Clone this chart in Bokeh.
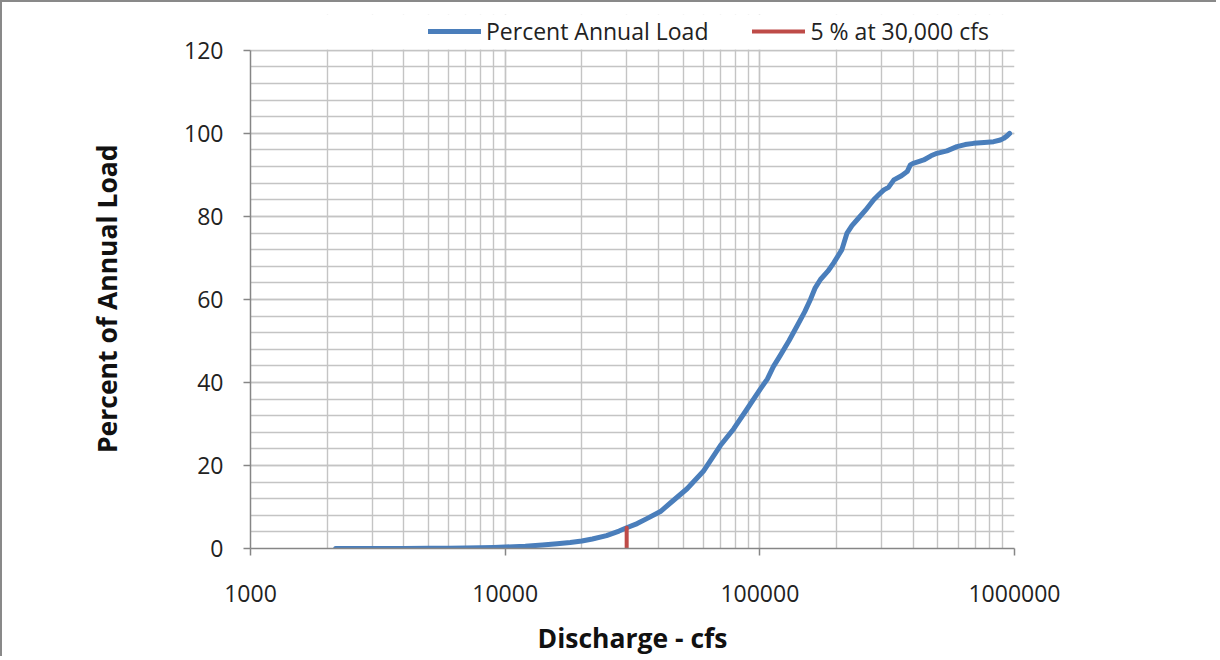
from bokeh.plotting import figure
from bokeh.models import FixedTicker, Range1d, Legend, LegendItem, BoxAnnotation
from bokeh.embed import file_html
from bokeh.resources import INLINE

# ---- data ----
discharge_cfs = [2160, 3000, 4000, 5000, 6000, 7000, 8000, 9000, 10000, 12000,
                 14000, 16000, 18000, 20000, 22000, 25000, 28000, 30000, 33000, 36000,
                 40700, 45000, 51800, 60000, 70000, 78900, 89100, 100400, 107000, 113000,
                 120000, 130000, 140000, 150000, 158000, 165000, 173000, 185000, 195000, 210000,
                 220000, 230000, 241000, 260000, 280000, 295000, 307000, 320000, 336000, 360000,
                 379000, 390000, 400000, 420000, 440000, 470000, 496000, 543000, 594000, 640000,
                 691000, 760000, 828000, 880000, 907000, 935000, 957000]
percent_load = [0.0, 0.0, 0.02, 0.04, 0.07, 0.12, 0.18, 0.25, 0.35, 0.55,
                0.85, 1.15, 1.45, 1.8, 2.3, 3.1, 4.2, 5.0, 6.0, 7.2,
                8.9, 11.2, 14.4, 18.6, 24.8, 28.8, 33.6, 38.4, 40.8, 43.8,
                46.4, 50.0, 53.6, 57.0, 60.0, 62.8, 64.8, 66.8, 68.8, 72.0,
                76.0, 77.8, 79.2, 81.5, 84.0, 85.4, 86.4, 87.0, 88.8, 89.8,
                90.8, 92.4, 92.8, 93.2, 93.6, 94.6, 95.2, 95.8, 96.8, 97.3,
                97.6, 97.8, 98.0, 98.4, 98.8, 99.4, 100.0]
marker_x = [30000, 30000]
marker_y = [0, 5]

x_major = [1000, 10000, 100000, 1000000]
x_labels = ["1000", "10000", "100000", "1000000"]
y_major = [0, 20, 40, 60, 80, 100, 120]
y_minor = list(range(0, 121, 4))
x_minor = [m * d for d in [1000, 10000, 100000] for m in range(1, 10)] + [1000000]
y_top = 120
legend_room = 8.64  # extra space above the 120 line, holding the legend

FONT = "Open Sans"
GRID = "#c4c4c4"
AXIS = "#868686"

p = figure(width=1216, height=656, x_axis_type="log",
           x_range=Range1d(1000, 1000000), y_range=Range1d(0, y_top + legend_room),
           output_backend="svg", toolbar_location=None,
           min_border_left=248, min_border_right=204,
           min_border_top=12, min_border_bottom=108,
           styles={"border-left": "2px solid #898989", "border-top": "2px solid #898989"})
p.outline_line_color = None

r1 = p.line(discharge_cfs, percent_load, line_color="#4a7ebb", line_width=5,
            line_cap="round", line_join="round")
r2 = p.line(marker_x, marker_y, line_color="#be4b48", line_width=4, line_cap="round")

# blank out the region above the 120 line (legend area)
p.add_layout(BoxAnnotation(bottom=y_top + 0.2, fill_color="white", fill_alpha=1,
                           line_color=None, level="glyph"))

xa = p.xaxis[0]
xa.ticker = FixedTicker(ticks=x_major, minor_ticks=x_minor)
xa.major_label_overrides = {v: s for v, s in zip(x_major, x_labels)}
ya = p.yaxis[0]
ya.ticker = FixedTicker(ticks=y_major, minor_ticks=y_minor)
ya.bounds = (0, y_top)

for ax in (xa, ya):
    ax.axis_line_color = AXIS
    ax.axis_line_width = 1.5
    ax.major_tick_line_color = AXIS
    ax.major_tick_line_width = 1.5
    ax.major_tick_in = 0
    ax.major_tick_out = 7
    ax.minor_tick_in = 0
    ax.minor_tick_out = 0
    ax.major_label_text_font = FONT
    ax.major_label_text_font_size = "23px"
    ax.major_label_text_color = "#222222"
    ax.axis_label_text_font = FONT
    ax.axis_label_text_font_size = "26.5px"
    ax.axis_label_text_font_style = "bold"
    ax.axis_label_text_color = "#111111"

xa.axis_label = "Discharge - cfs"
ya.axis_label = "Percent of Annual Load" + "\u00a0" * 5
xa.major_label_standoff = 29
xa.axis_label_standoff = 15
ya.major_label_standoff = 20
ya.axis_label_standoff = 56

for g in (p.xgrid[0], p.ygrid[0]):
    g.grid_line_color = GRID
    g.grid_line_width = 1.4
    g.minor_grid_line_color = GRID
    g.minor_grid_line_width = 1.4

legend = Legend(items=[LegendItem(label="Percent Annual Load", renderers=[r1]),
                       LegendItem(label="5 % at 30,000 cfs", renderers=[r2])],
                orientation="horizontal", location=(178, 501))
legend.label_text_font = FONT
legend.label_text_font_size = "23px"
legend.label_text_color = "#222222"
legend.glyph_width = 53
legend.label_standoff = 5
legend.spacing = 44
legend.padding = 0
legend.margin = 0
legend.border_line_color = None
legend.background_fill_alpha = 0
p.add_layout(legend, "center")

open("out.html", "w").write(file_html(p, INLINE))
